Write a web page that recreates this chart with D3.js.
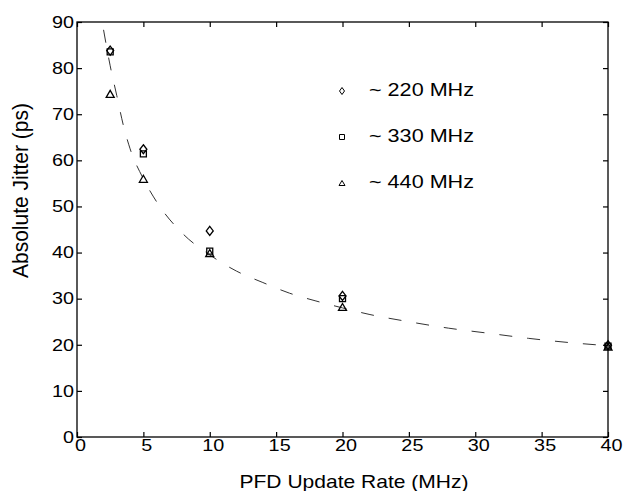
<!DOCTYPE html>
<html>
<head>
<meta charset="utf-8">
<script src="https://cdn.jsdelivr.net/npm/d3@7"></script>
<style>
  body { margin: 0; background: #fff; }
  text { font-family: "Liberation Sans", Arial, Helvetica, sans-serif; fill: #000; }
</style>
</head>
<body>
<div id="chart"></div>
<script>
var rates = [2.5, 5, 10, 20, 40];
var jitter220 = [83.8, 62.4, 44.7, 30.6, 19.9];
var jitter330 = [83.5, 61.4, 40.3, 30.0, 19.7];
var jitter440 = [74.4, 56.0, 39.9, 28.2, 19.6];
// dashed fit curve, sampled from the figure
var fitRates = [2, 2.5, 3, 3.5, 4, 5, 6, 8, 10, 12, 14, 16, 18, 20, 22, 25, 28, 31, 34, 37, 40];
var fitJitter = [88.3, 80.5, 74, 67.5, 62.5, 56, 51, 44, 39.5, 36, 33.5, 31.2, 29.5, 28, 26.6, 25, 23.6, 22.5, 21.4, 20.5, 19.8];
var xTicks = [0, 5, 10, 15, 20, 25, 30, 35, 40];
var yTicks = [0, 10, 20, 30, 40, 50, 60, 70, 80, 90];
var seriesNames = ["~ 220 MHz", "~ 330 MHz", "~ 440 MHz"];
var seriesMarks = ["diamond", "square", "triangle"];

var W = 628, H = 491;
var pLeft = 77, pRight = 608, pTop = 22, pBottom = 437;
var SX = 1.2; // the scan is a bit wider than tall

var svg = d3.select("#chart").append("svg")
    .attr("width", W)
    .attr("height", H);

var x = d3.scaleLinear().domain([0, 40]).range([pLeft, pRight]);
var y = d3.scaleLinear().domain([0, 90]).range([pBottom, pTop]);

// marker outline, w/h in px
function mark(type, w, h) {
    var p = d3.path();
    if (type == "diamond") {
        p.moveTo(0, -h/2); p.lineTo(w/2, 0); p.lineTo(0, h/2); p.lineTo(-w/2, 0); p.closePath();
    } else if (type == "square") {
        p.rect(-w/2, -h/2, w, h);
    } else {
        p.moveTo(0, -h/2); p.lineTo(w/2, h/2); p.lineTo(-w/2, h/2); p.closePath();
    }
    return p.toString();
}

// axes, ticks pointing inward on all four sides
var gx = svg.append("g")
    .attr("transform", "translate(0," + pBottom + ")")
    .call(d3.axisBottom(x).tickValues(xTicks).tickSize(-5).tickSizeOuter(0).tickPadding(2.5));
var gy = svg.append("g")
    .attr("transform", "translate(" + pLeft + ",0)")
    .call(d3.axisLeft(y).tickValues(yTicks).tickSize(-5).tickSizeOuter(0).tickPadding(2.5));
svg.append("g")
    .attr("transform", "translate(0," + pTop + ")")
    .call(d3.axisTop(x).tickValues(xTicks).tickSize(-5).tickSizeOuter(0).tickFormat(""));
svg.append("g")
    .attr("transform", "translate(" + pRight + ",0)")
    .call(d3.axisRight(y).tickValues(yTicks).tickSize(-5).tickSizeOuter(0).tickFormat(""));

svg.selectAll(".domain").remove();
svg.selectAll(".tick line").attr("stroke", "#000").attr("stroke-width", 1.2);
svg.selectAll(".tick text")
    .attr("font-size", 16.5)
    .attr("fill", "#000");
svg.selectAll("g").attr("font-family", null).attr("font-size", null);
gx.selectAll(".tick text").attr("transform", "translate(3,0) scale(" + SX + ",1)");
gy.selectAll(".tick text").attr("transform", "scale(" + SX + ",1)");

svg.append("rect")
    .attr("x", pLeft).attr("y", pTop)
    .attr("width", pRight - pLeft).attr("height", pBottom - pTop)
    .attr("fill", "none")
    .attr("stroke", "#000")
    .attr("stroke-width", 1.3);

// fit curve
var line = d3.line()
    .x(function(d) { return x(d[0]); })
    .y(function(d) { return y(d[1]); })
    .curve(d3.curveMonotoneX);
svg.append("path")
    .datum(d3.zip(fitRates, fitJitter))
    .attr("d", line)
    .attr("fill", "none")
    .attr("stroke", "#333")
    .attr("stroke-width", 1)
    .attr("stroke-dasharray", "13,15");

// data points
var sizes = { diamond: [7, 9], square: [6, 6], triangle: [8, 7] };
[jitter220, jitter330, jitter440].forEach(function(vals, i) {
    var t = seriesMarks[i];
    svg.append("g").selectAll("path")
        .data(d3.zip(rates, vals))
        .enter().append("path")
        .attr("transform", function(d) { return "translate(" + x(d[0]) + "," + y(d[1]) + ")"; })
        .attr("d", mark(t, sizes[t][0], sizes[t][1]))
        .attr("fill", "none")
        .attr("stroke", "#000")
        .attr("stroke-width", 1.3);
});

// legend
var legendSizes = { diamond: [5, 7], square: [5, 5], triangle: [6, 5] };
seriesNames.forEach(function(name, i) {
    var t = seriesMarks[i];
    var ly = 96 + i * 46;
    svg.append("path")
        .attr("transform", "translate(342," + (ly - 5) + ")")
        .attr("d", mark(t, legendSizes[t][0], legendSizes[t][1]))
        .attr("fill", "none")
        .attr("stroke", "#000")
        .attr("stroke-width", 1);
    svg.append("text")
        .attr("transform", "translate(369," + ly + ") scale(" + SX + ",1)")
        .attr("font-size", 18)
        .text(name);
});

// axis titles
svg.append("text")
    .attr("transform", "translate(354,487.5) scale(" + SX + ",1)")
    .attr("text-anchor", "middle")
    .attr("font-size", 18)
    .attr("textLength", 229 / SX)
    .attr("lengthAdjust", "spacingAndGlyphs")
    .text("PFD Update Rate (MHz)");
svg.append("text")
    .attr("transform", "translate(28,190.5) scale(" + SX + ",1) rotate(-90)")
    .attr("text-anchor", "middle")
    .attr("font-size", 18.5)
    .attr("textLength", 175)
    .attr("lengthAdjust", "spacingAndGlyphs")
    .text("Absolute Jitter (ps)");
</script>
</body>
</html>
